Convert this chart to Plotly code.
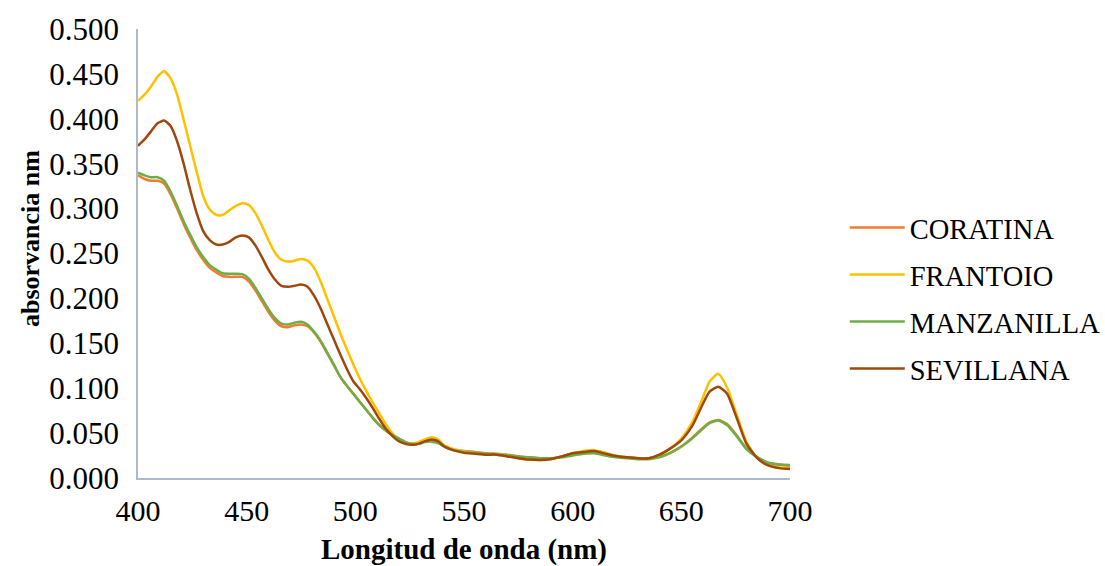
import plotly.graph_objects as go

wavelength = [400, 403, 406, 409, 412, 415, 418, 421, 424, 427, 430, 433, 436, 439, 442, 445, 448, 451,
              454, 457, 460, 463, 466, 469, 472, 475, 478, 481, 484, 487, 490, 493, 496, 499, 502, 505,
              508, 511, 514, 517, 520, 523, 526, 529, 532, 535, 538, 541, 545, 550, 555, 560, 565, 570,
              575, 580, 585, 590, 595, 600, 605, 610, 615, 620, 625, 630, 635, 640, 645, 650, 655, 660,
              663, 667, 671, 675, 680, 685, 690, 695, 700]

coratina = [0.337, 0.333, 0.331, 0.331, 0.328, 0.316, 0.300, 0.283, 0.268, 0.254, 0.243, 0.234, 0.229, 0.225,
            0.224, 0.224, 0.224, 0.219, 0.209, 0.197, 0.185, 0.175, 0.169, 0.168, 0.170, 0.171, 0.169, 0.162,
            0.152, 0.139, 0.126, 0.113, 0.103, 0.094, 0.085, 0.076, 0.067, 0.059, 0.053, 0.048, 0.044, 0.040,
            0.038, 0.038, 0.041, 0.042, 0.040, 0.036, 0.032, 0.030, 0.029, 0.0275, 0.027, 0.026,
            0.024, 0.023, 0.022, 0.021, 0.024, 0.027, 0.029, 0.030, 0.028, 0.0245, 0.023, 0.022, 0.022, 0.024,
            0.028, 0.035, 0.045, 0.056, 0.062, 0.0645, 0.060, 0.049, 0.033, 0.023, 0.017, 0.015, 0.0134]

frantoio = [0.420, 0.427, 0.436, 0.447, 0.453, 0.445, 0.427, 0.399, 0.370, 0.341, 0.314, 0.299, 0.293, 0.293,
            0.298, 0.303, 0.306, 0.304, 0.295, 0.281, 0.265, 0.251, 0.243, 0.241, 0.242, 0.244, 0.242, 0.234,
            0.219, 0.200, 0.181, 0.1615, 0.144, 0.127, 0.111, 0.097, 0.084, 0.072, 0.060, 0.050, 0.043, 0.039,
            0.0385, 0.040, 0.043, 0.0455, 0.043, 0.036, 0.032, 0.0295, 0.028, 0.027, 0.0265, 0.025,
            0.022, 0.0205, 0.020, 0.021, 0.024, 0.0275, 0.030, 0.031, 0.028, 0.0245, 0.023, 0.022, 0.022, 0.026,
            0.033, 0.044, 0.062, 0.090, 0.1075, 0.116, 0.101, 0.074, 0.040, 0.022, 0.014, 0.012, 0.011]

manzanilla = [0.340, 0.337, 0.335, 0.335, 0.331, 0.319, 0.303, 0.286, 0.271, 0.257, 0.246, 0.237, 0.232, 0.228,
              0.2275, 0.2275, 0.227, 0.222, 0.212, 0.200, 0.188, 0.178, 0.172, 0.171, 0.173, 0.174, 0.171, 0.163,
              0.153, 0.140, 0.127, 0.113, 0.103, 0.094, 0.085, 0.076, 0.067, 0.059, 0.053, 0.048, 0.044, 0.040,
              0.038, 0.038, 0.040, 0.0405, 0.039, 0.035, 0.031, 0.029, 0.028, 0.027, 0.0265, 0.025,
              0.024, 0.023, 0.022, 0.022, 0.023, 0.025, 0.027, 0.0275, 0.025, 0.023, 0.022, 0.021, 0.021, 0.023,
              0.028, 0.035, 0.044, 0.055, 0.061, 0.064, 0.059, 0.048, 0.032, 0.023, 0.017, 0.015, 0.0145]

sevillana = [0.370, 0.377, 0.386, 0.395, 0.398, 0.392, 0.375, 0.350, 0.321, 0.295, 0.275, 0.265, 0.260, 0.260,
             0.263, 0.268, 0.270, 0.268, 0.259, 0.246, 0.232, 0.221, 0.214, 0.213, 0.214, 0.2155, 0.213, 0.203,
             0.189, 0.172, 0.155, 0.138, 0.122, 0.108, 0.099, 0.089, 0.078, 0.066, 0.055, 0.047, 0.041, 0.038,
             0.037, 0.038, 0.041, 0.043, 0.041, 0.035, 0.031, 0.028, 0.027, 0.026, 0.026, 0.024,
             0.022, 0.0205, 0.020, 0.021, 0.024, 0.0275, 0.029, 0.030, 0.027, 0.0245, 0.023, 0.022, 0.022, 0.026,
             0.033, 0.042, 0.058, 0.083, 0.0963, 0.1015, 0.094, 0.070, 0.038, 0.022, 0.014, 0.011, 0.010]

series_names = ["CORATINA", "FRANTOIO", "MANZANILLA", "SEVILLANA"]
series_values = [coratina, frantoio, manzanilla, sevillana]
series_colors = ["#ED7D31", "#FFC000", "#70AD47", "#9E480E"]

y_ticks = [0.0, 0.05, 0.1, 0.15, 0.2, 0.25, 0.3, 0.35, 0.4, 0.45, 0.5]
x_ticks = [400, 450, 500, 550, 600, 650, 700]

FONT = "Liberation Serif, Times New Roman, serif"

fig = go.Figure()
for name, vals, col in zip(series_names, series_values, series_colors):
    fig.add_trace(go.Scatter(
        x=wavelength, y=vals, name=name, mode="lines",
        line=dict(color=col, width=2.5, shape="spline", smoothing=0.6),
        legendgroup=name,
    ))

axis_col = "#AEB9CC"
fig.update_layout(
    width=1105, height=566,
    margin=dict(l=138, r=315, t=29, b=88, autoexpand=False),
    paper_bgcolor="white", plot_bgcolor="white",
    font=dict(family=FONT, size=30, color="black"),
    showlegend=True,
    legend=dict(
        x=1.084, y=0.400, xanchor="left", yanchor="middle",
        font=dict(family=FONT, size=28.5, color="black"),
        tracegroupgap=7, itemwidth=55,
        bgcolor="rgba(0,0,0,0)",
    ),
    xaxis=dict(
        range=[400, 700], tickvals=x_ticks, ticktext=[str(v) for v in x_ticks],
        showgrid=False, zeroline=False, showline=True, linecolor=axis_col, linewidth=1.5,
        ticks="", ticklabelstandoff=5,
        tickfont=dict(family=FONT, size=30, color="black"),
        title=dict(text="<b>Longitud de onda (nm)</b>", font=dict(family=FONT, size=29, color="black"), standoff=16),
    ),
    yaxis=dict(
        range=[0, 0.5], tickvals=y_ticks, tickformat=".3f",
        showgrid=False, zeroline=False, showline=True, linecolor=axis_col, linewidth=1.5,
        ticks="", ticklabelstandoff=11,
        tickfont=dict(family=FONT, size=31, color="black"),
    ),
    annotations=[dict(
        text="<b>absorvancia nm</b>", textangle=-90,
        xref="paper", yref="paper", x=(30 - 138) / 652, y=(478 - 239) / 449,
        xanchor="center", yanchor="middle", showarrow=False,
        font=dict(family=FONT, size=26, color="black"),
    )],
)

fig.write_html("out.html")
